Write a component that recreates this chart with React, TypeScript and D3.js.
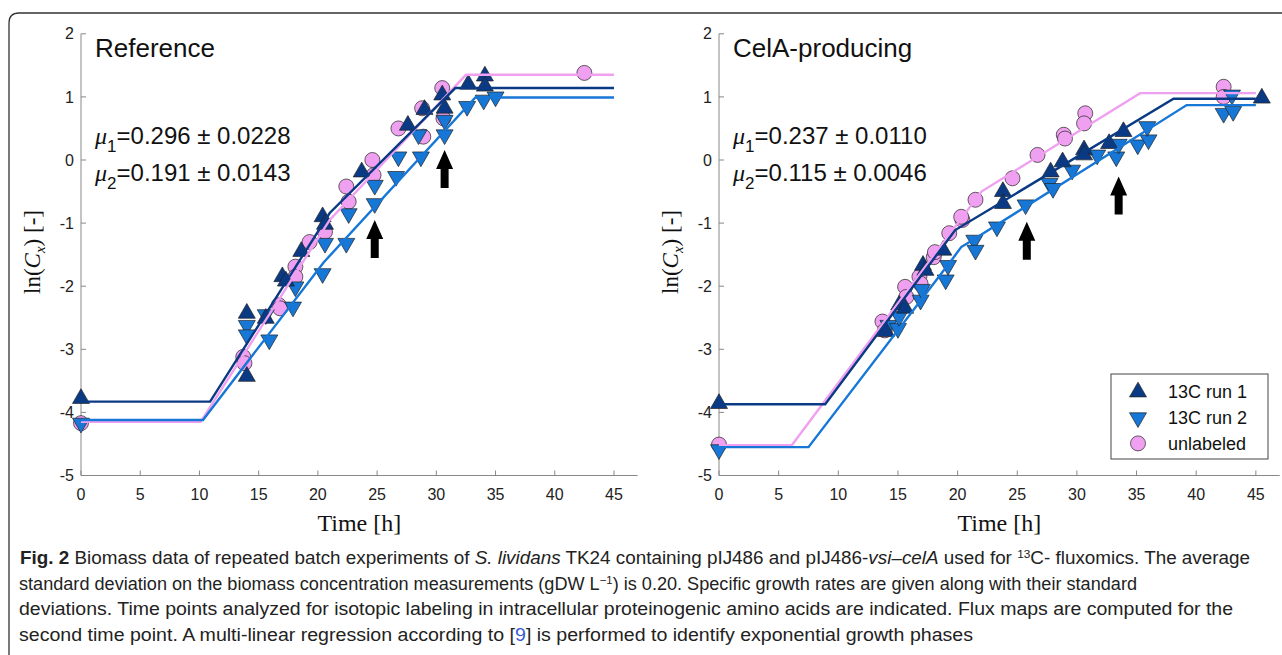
import React from "react";
import * as d3 from "d3";

type Pt = [number, number];

// ---- Reference strain (pIJ486) ----
const refRun1: Pt[] = [
  [0, -3.78], [14, -2.43], [14, -3.43], [15.6, -2.51], [17, -1.85], [17.3, -1.92],
  [18.6, -1.45], [20.4, -0.9], [20.6, -1.02], [23.7, -0.19], [27.6, 0.55], [29, 0.8],
  [30.5, 1.03], [30.7, 0.82], [32.7, 1.2], [34.1, 1.33], [34.1, 1.17],
];
const refRun2: Pt[] = [
  [0, -4.17], [14, -2.62], [14, -2.77], [15.6, -2.45], [15.9, -2.85], [17.9, -2.33],
  [18.1, -2.01], [20.4, -1.8], [20.6, -1.32], [22.4, -1.32], [22.6, -0.85], [24.8, -0.4],
  [24.8, -0.69], [26.6, -0.26], [26.8, 0.05], [28.5, 0.4], [28.7, 0.05], [30.7, 0.63],
  [30.7, 0.4], [32.6, 0.85], [34, 0.95], [35, 1.0],
];
const refUnlab: Pt[] = [
  [0, -4.17], [13.7, -3.12], [13.8, -3.22], [16.7, -2.3], [16.8, -2.35], [18.1, -1.69],
  [18.1, -1.85], [19.3, -1.3], [20.6, -1.14], [22.4, -0.42], [22.6, -0.66], [24.6, 0.0],
  [24.7, -0.24], [26.8, 0.5], [28.8, 0.82], [28.9, 0.37], [30.5, 1.14], [30.6, 0.66],
  [42.5, 1.38],
];
const refFit1: Pt[] = [[0, -3.83], [10.9, -3.83], [21, -0.84], [31.6, 1.14], [45, 1.14]];
const refFit2: Pt[] = [[0, -4.12], [10.3, -4.12], [20.5, -1.62], [33.3, 0.99], [45, 0.99]];
const refFitU: Pt[] = [[0, -4.15], [10.1, -4.15], [21, -0.95], [32.5, 1.35], [45, 1.35]];
const refArrows: Pt[] = [[24.8, -0.95], [30.7, 0.16]];

// ---- CelA-producing strain (pIJ486-vsi-celA) ----
const celRun1: Pt[] = [
  [0, -3.86], [14, -2.72], [15.1, -2.3], [15.6, -2.35], [17.1, -1.67], [17.3, -1.75],
  [18.8, -1.43], [23.8, -0.5], [23.8, -0.69], [27.8, -0.19], [28.8, -0.03], [30.6, 0.16],
  [30.6, 0.08], [32.7, 0.26], [33.9, 0.45], [45.5, 0.98],
];
const celRun2: Pt[] = [
  [0, -4.59], [14.2, -2.62], [15, -2.67], [15.1, -2.48], [16.9, -2.22], [17, -2.05],
  [19, -1.9], [19.2, -1.67], [21.4, -1.27], [21.5, -1.43], [23.3, -1.06], [25.7, -0.71],
  [27.7, -0.37], [28, -0.45], [29.6, -0.16], [31.7, 0.08], [33.3, 0.05], [33.5, 0.25],
  [35.1, 0.24], [36, 0.32], [35.9, 0.53], [42.3, 0.74], [43.1, 0.77], [43, 1.03],
];
const celUnlab: Pt[] = [
  [0, -4.51], [13.7, -2.56], [13.9, -2.7], [15.6, -2.01], [15.7, -2.17], [16.8, -1.85],
  [16.9, -1.96], [18, -1.54], [18.1, -1.46], [19.3, -1.16], [20.4, -0.95], [20.3, -0.9],
  [21.5, -0.63], [24.6, -0.29], [26.7, 0.08], [28.9, 0.4], [29, 0.34], [30.7, 0.74],
  [30.6, 0.58], [42.3, 1.16], [42.3, 1.0],
];
const celFit1: Pt[] = [[0, -3.87], [8.9, -3.87], [19.8, -1.11], [38.1, 0.97], [45, 0.97]];
const celFit2: Pt[] = [[0, -4.55], [7.5, -4.55], [19.6, -1.56], [20.3, -1.38], [21, -1.3], [39.2, 0.87], [45, 0.87]];
const celFitU: Pt[] = [[0, -4.52], [6.1, -4.52], [22, -0.5], [35.3, 1.06], [45, 1.06]];
const celArrows: Pt[] = [[25.8, -0.98], [33.5, -0.26]];

const xTicks = [0, 5, 10, 15, 20, 25, 30, 35, 40, 45];
const yTicks = [-5, -4, -3, -2, -1, 0, 1, 2];
const legendLabels = ["13C run 1", "13C run 2", "unlabeled"];

const DARK = "#0b3a84";
const BLUE = "#1677d6";
const PINK = "#f0a0f0";
const SANS = "'Liberation Sans', Arial, sans-serif";
const SERIF = "'Liberation Serif', 'DejaVu Serif', serif";

const triUp = d3.symbol(d3.symbolTriangle, 125)()!;

type PanelProps = {
  x0: number; pxPerH: number; title: string; mu1: string; mu2: string;
  run1: Pt[]; run2: Pt[]; unl: Pt[]; fit1: Pt[]; fit2: Pt[]; fitU: Pt[];
  arrows: Pt[]; legend?: boolean;
};

const Panel = (p: PanelProps) => {
  const x = d3.scaleLinear().domain([0, 47]).range([p.x0, p.x0 + 47 * p.pxPerH]);
  const y = d3.scaleLinear().domain([-5, 2]).range([475.5, 33.8]);
  const line = d3.line<Pt>().x(d => x(d[0])).y(d => y(d[1]));
  const [xa, xb] = x.range();

  return (
    <g>
      {/* axes */}
      <line x1={xa} x2={xa} y1={y(-5)} y2={y(2)} stroke="#888" strokeWidth={1} />
      <line x1={xa} x2={xb} y1={y(-5)} y2={y(-5)} stroke="#888" strokeWidth={1} />
      {yTicks.map(t => (
        <g key={"y" + t}>
          <line x1={xa} x2={xa + 5} y1={y(t)} y2={y(t)} stroke="#888" />
          <text x={xa - 7} y={y(t)} dy="0.35em" textAnchor="end" fontSize={16} fontFamily={SANS} fill="#222">{t}</text>
        </g>
      ))}
      {xTicks.map(t => (
        <g key={"x" + t}>
          <line x1={x(t)} x2={x(t)} y1={y(-5)} y2={y(-5) - 5} stroke="#888" />
          <text x={x(t)} y={500} textAnchor="middle" fontSize={16} fontFamily={SANS} fill="#222">{t}</text>
        </g>
      ))}
      <text x={(xa + xb) / 2} y={531} textAnchor="middle" fontSize={24} fontFamily={SERIF} fill="#111">Time [h]</text>
      <text transform={`translate(${xa - 41},252) rotate(-90)`} textAnchor="middle" fontSize={23} fontFamily={SERIF} fill="#111">
        ln(<tspan fontStyle="italic">C</tspan><tspan fontStyle="italic" fontSize={15} dy={5}>x</tspan><tspan dy={-5}>) [-]</tspan>
      </text>

      {/* texts */}
      <text x={xa + 14} y={57} fontSize={26} fontFamily={SANS} fill="#111">{p.title}</text>
      {[p.mu1, p.mu2].map((m, i) => (
        <text key={m} x={xa + 14} y={144 + i * 37} fontSize={24} fontFamily={SANS} fill="#111">
          <tspan fontStyle="italic" fontFamily={SERIF}>μ</tspan>
          <tspan fontSize={17} dy={8}>{i + 1}</tspan>
          <tspan dy={-8}>{m}</tspan>
        </text>
      ))}

      {/* markers */}
      {p.unl.map((d, i) => (
        <circle key={"u" + i} cx={x(d[0])} cy={y(d[1])} r={7.5} fill={PINK} stroke="#222" strokeWidth={0.7} />
      ))}
      {p.run2.map((d, i) => (
        <path key={"b" + i} d={triUp} transform={`translate(${x(d[0])},${y(d[1])}) rotate(180)`} fill={BLUE} stroke="#222" strokeWidth={0.7} />
      ))}
      {p.run1.map((d, i) => (
        <path key={"a" + i} d={triUp} transform={`translate(${x(d[0])},${y(d[1])})`} fill={DARK} stroke="#222" strokeWidth={0.7} />
      ))}

      {/* fits */}
      <path d={line(p.fitU)!} fill="none" stroke={PINK} strokeWidth={2.4} />
      <path d={line(p.fit2)!} fill="none" stroke={BLUE} strokeWidth={2.4} />
      <path d={line(p.fit1)!} fill="none" stroke={DARK} strokeWidth={2.4} />

      {/* arrows: tip at data point */}
      {p.arrows.map((a, i) => {
        const ax = x(a[0]), ay = y(a[1]);
        return (
          <path key={"ar" + i} fill="#000"
            d={`M${ax},${ay} L${ax + 8.5},${ay + 19} L${ax + 4},${ay + 19} L${ax + 4},${ay + 38} L${ax - 4},${ay + 38} L${ax - 4},${ay + 19} L${ax - 8.5},${ay + 19} Z`} />
        );
      })}

      {p.legend && (
        <g>
          <rect x={1111} y={374} width={157} height={85} fill="#fff" stroke="#444" strokeWidth={1} />
          {legendLabels.map((l, i) => {
            const ly = 392 + i * 25.7;
            return (
              <g key={l}>
                {i === 0 && <path d={triUp} transform={`translate(1138,${ly})`} fill={DARK} stroke="#222" strokeWidth={0.7} />}
                {i === 1 && <path d={triUp} transform={`translate(1138,${ly}) rotate(180)`} fill={BLUE} stroke="#222" strokeWidth={0.7} />}
                {i === 2 && <circle cx={1138} cy={ly} r={7.5} fill={PINK} stroke="#222" strokeWidth={0.7} />}
                <text x={1168} y={ly} dy="0.35em" fontSize={18} fontFamily={SANS} fill="#111">{l}</text>
              </g>
            );
          })}
        </g>
      )}
    </g>
  );
};

const CAP = "'Liberation Sans', Arial, sans-serif";

export default function App() {
  return (
    <svg width={1282} height={655} style={{ display: "block", position: "absolute", left: 0, top: 0 }}>
      <rect width={1282} height={655} fill="#fff" />
      <path d="M9,700 L9,23 Q9,13 19,13 L1300,13" fill="none" stroke="#333" strokeWidth={1.3} />
      <Panel x0={81} pxPerH={11.844} title="Reference" mu1="=0.296 ± 0.0228" mu2="=0.191 ± 0.0143"
        run1={refRun1} run2={refRun2} unl={refUnlab} fit1={refFit1} fit2={refFit2} fitU={refFitU} arrows={refArrows} />
      <Panel x0={719} pxPerH={11.93} title="CelA-producing" mu1="=0.237 ± 0.0110" mu2="=0.115 ± 0.0046"
        run1={celRun1} run2={celRun2} unl={celUnlab} fit1={celFit1} fit2={celFit2} fitU={celFitU} arrows={celArrows} legend />

      <g fontFamily={CAP} fontSize={17.5} fill="#222">
        <text x={20} y={564} textLength={1230} lengthAdjust="spacingAndGlyphs">
          <tspan fontWeight="bold">Fig. 2</tspan>  Biomass data of repeated batch experiments of <tspan fontStyle="italic">S. lividans</tspan> TK24 containing pIJ486 and pIJ486-<tspan fontStyle="italic">vsi–celA</tspan> used for <tspan fontSize={11} dy={-6}>13</tspan><tspan dy={6}>C- fluxomics. The average</tspan>
        </text>
        <text x={19} y={590} textLength={1118} lengthAdjust="spacingAndGlyphs">
          standard deviation on the biomass concentration measurements (gDW L<tspan fontSize={11} dy={-6}>−1</tspan><tspan dy={6}>) is 0.20. Specific growth rates are given along with their standard</tspan>
        </text>
        <text x={19} y={615} textLength={1214} lengthAdjust="spacingAndGlyphs">
          deviations. Time points analyzed for isotopic labeling in intracellular proteinogenic amino acids are indicated. Flux maps are computed for the
        </text>
        <text x={19} y={641} textLength={954} lengthAdjust="spacingAndGlyphs">
          second time point. A multi-linear regression according to [<tspan fill="#3a5bd0">9</tspan>] is performed to identify exponential growth phases
        </text>
      </g>
    </svg>
  );
}
